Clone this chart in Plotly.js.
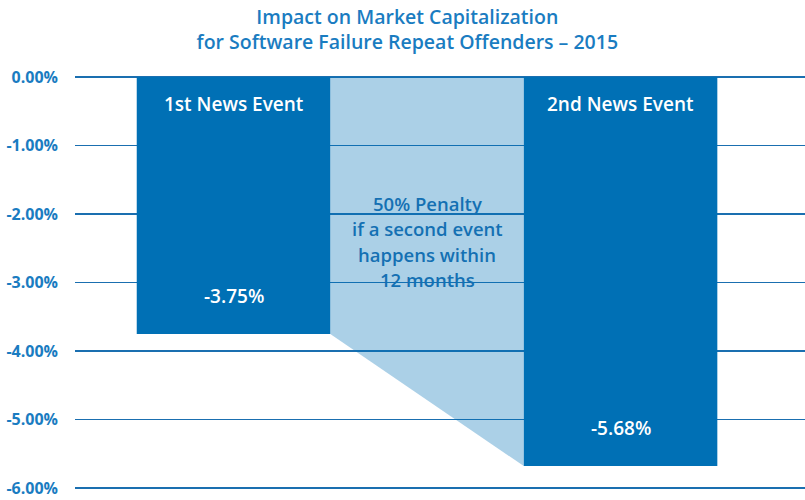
<!DOCTYPE html>
<html>
<head>
<meta charset="utf-8">
<script src="https://cdn.plot.ly/plotly-3.0.1.min.js"></script>
<style>html,body{margin:0;padding:0;background:#fff}#chart{width:805px;height:500px}</style>
</head>
<body>
<div id="chart"></div>
<script>
// Data
const events = ["1st News Event", "2nd News Event"];
const eventPos = [0, 2];
const impact = [-3.75, -5.68];
const valueLabels = ["-3.75%", "-5.68%"];
const penaltyLines = ["50% Penalty", "if a second event", "happens within", "12 months"];
const tickVals = [0, -1, -2, -3, -4, -5, -6];
const tickText = ["0.00%", "-1.00%", "-2.00%", "-3.00%", "-4.00%", "-5.00%", "-6.00%"];

const dark = "#0070B5";
const font = "'Open Sans', sans-serif";

// penalty wedge built from the two bar values
const wedgeX = [eventPos[0] + 0.5, eventPos[0] + 0.5, eventPos[1] - 0.5, eventPos[1] - 0.5, eventPos[0] + 0.5];
const wedgeY = [0, impact[0], impact[1], 0, 0];

const traces = [
  {
    type: "bar", x: eventPos, y: impact, width: 1,
    marker: {color: dark, line: {width: 0}},
    hoverinfo: "skip", showlegend: false
  },
  {
    type: "scatter", mode: "lines", x: wedgeX, y: wedgeY,
    fill: "toself", fillcolor: "rgba(0,112,181,0.33)",
    line: {width: 0, color: "rgba(0,0,0,0)"},
    hoverinfo: "skip", showlegend: false
  }
];

const annotations = [];
events.forEach((e, i) => {
  annotations.push({x: eventPos[i], y: -0.39, text: e, showarrow: false,
    font: {family: font, size: 19, color: "#ffffff", weight: 600}, xref: "x", yref: "y"});
  annotations.push({x: eventPos[i], y: impact[i] + 0.55, text: valueLabels[i], showarrow: false,
    font: {family: font, size: 19, color: "#ffffff", weight: 600}, xref: "x", yref: "y"});
});
penaltyLines.forEach((t, j) => {
  annotations.push({x: (eventPos[0] + eventPos[1]) / 2, y: -1.84 - 0.372 * j, text: t, showarrow: false,
    font: {family: font, size: 18.5, color: "#1470B3", weight: 600}, xref: "x", yref: "y"});
});

const layout = {
  width: 805, height: 500,
  margin: {l: 75, r: 0, t: 70, b: 5},
  paper_bgcolor: "#fff", plot_bgcolor: "#fff",
  title: {
    text: "Impact on Market Capitalization<br>for Software Failure Repeat Offenders – 2015",
    font: {family: font, size: 19.5, color: "#1A7CC1", weight: 600},
    x: 0.506, xanchor: "center", xref: "container", yref: "container", y: 0.952, yanchor: "middle"
  },
  xaxis: {range: [-0.819, 2.953], showgrid: false, zeroline: false, showticklabels: false, fixedrange: true},
  yaxis: {
    range: [-6.102, 0.102], tickvals: tickVals, ticktext: tickText,
    showgrid: true, gridcolor: "#1A6FB0", gridwidth: 1.3, zeroline: false,
    ticklabelstandoff: 16,
    tickfont: {family: font, size: 16, color: "#1A7CC1", weight: 700}
  },
  annotations: annotations,
  showlegend: false
};

Plotly.newPlot("chart", traces, layout, {displayModeBar: false, staticPlot: true});
</script>
</body>
</html>
